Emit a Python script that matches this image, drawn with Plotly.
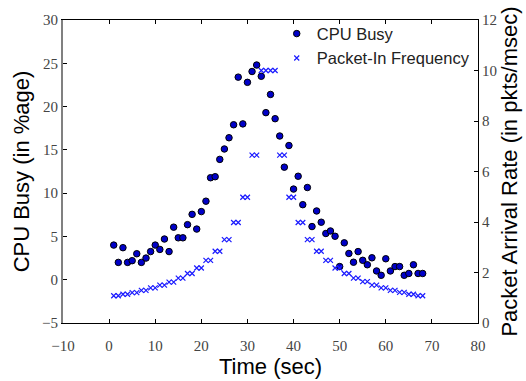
import plotly.graph_objects as go

time_s = list(range(1, 69))
cpu_busy = [4.0, 2.0, 3.7, 2.0, 2.2, 3.0, 2.0, 2.5, 3.25, 4.0,
            3.5, 4.7, 3.25, 6.07, 4.84, 4.84, 6.36, 7.55, 5.85, 7.87,
            9.07, 11.78, 11.9, 13.9, 15.1, 16.4, 17.9, 23.4, 18.0, 22.8,
            24.05, 24.8, 23.5, 19.3, 21.4, 18.6, 16.6, 13.0, 15.5, 10.47,
            11.95, 8.67, 10.65, 6.14, 7.94, 6.64, 5.34, 5.63, 5.02, 1.52,
            4.26, 3.03, 2.02, 3.25, 2.24, 1.73, 2.53, 1.01, 0.51, 2.42,
            1.01, 1.52, 1.52, 0.51, 0.72, 1.73, 0.72, 0.72]
packet_in = [1.08, 1.08, 1.14, 1.14, 1.2, 1.2, 1.29, 1.29, 1.39, 1.39,
             1.5, 1.5, 1.62, 1.62, 1.78, 1.78, 1.96, 1.96, 2.18, 2.18,
             2.48, 2.48, 2.84, 2.84, 3.3, 3.3, 3.98, 3.98, 4.98, 4.98,
             6.65, 6.65, 10.0, 10.0, 10.0, 10.0, 6.65, 6.65, 4.98, 4.98,
             3.98, 3.98, 3.3, 3.3, 2.84, 2.84, 2.48, 2.48, 2.18, 2.18,
             1.96, 1.96, 1.78, 1.78, 1.64, 1.64, 1.5, 1.5, 1.39, 1.39,
             1.29, 1.29, 1.21, 1.21, 1.14, 1.14, 1.08, 1.08]

x_ticks = [-10, 0, 10, 20, 30, 40, 50, 60, 70, 80]
y_ticks = [-5, 0, 5, 10, 15, 20, 25, 30]
y2_ticks = [0, 2, 4, 6, 8, 10, 12]

tick_font = dict(family="Liberation Serif", size=15, color="#444444")
title_font = dict(family="Liberation Sans", size=22, color="black")

fig = go.Figure()
fig.add_trace(go.Scatter(
    x=time_s, y=cpu_busy, mode="markers", name="CPU Busy",
    legendgroup="a",
    marker=dict(symbol="circle", size=6.5, color="#0000c8",
                line=dict(color="black", width=1)),
))
fig.add_trace(go.Scatter(
    x=time_s, y=packet_in, mode="markers", name="Packet-In Frequency",
    legendgroup="b", yaxis="y2",
    marker=dict(symbol="x-thin-open", size=5, color="#1a1aff",
                line=dict(color="#1a1aff", width=1.2)),
))

fig.update_layout(
    width=526, height=381,
    margin=dict(l=63, r=44, t=15, b=43),
    paper_bgcolor="white", plot_bgcolor="white",
    showlegend=True,
    legend=dict(x=0.515, y=1.012, xanchor="left", yanchor="top",
                bgcolor="rgba(0,0,0,0)", borderwidth=0,
                font=dict(family="Liberation Sans", size=16.5, color="#222222"),
                traceorder="grouped", tracegroupgap=0, itemwidth=30),
    xaxis=dict(range=[-10, 80], tickvals=x_ticks, ticks="inside", ticklen=4,
               tickcolor="black", showline=True, linecolor="black", linewidth=1.2,
               mirror="ticks", showgrid=False, zeroline=False,
               tickfont=tick_font, ticklabelstandoff=9,
               title=dict(text="Time (sec)", font=title_font, standoff=0)),
    yaxis=dict(range=[-5, 30], tickvals=y_ticks, ticks="inside", ticklen=4,
               tickcolor="black", showline=True, linecolor="#808080", linewidth=2,
               showgrid=False, zeroline=False, tickfont=tick_font,
               title=dict(text="CPU Busy (in %age)", font=title_font, standoff=6)),
    yaxis2=dict(range=[0, 12], tickvals=y2_ticks, ticks="inside", ticklen=4,
                tickcolor="black", overlaying="y", side="right",
                showline=True, linecolor="black", linewidth=1.2,
                showgrid=False, zeroline=False, tickfont=tick_font,
                title=dict(text="Packet Arrival Rate (in pkts/msec)", font=title_font,
                           standoff=2)),
)

fig.write_html("out.html")
